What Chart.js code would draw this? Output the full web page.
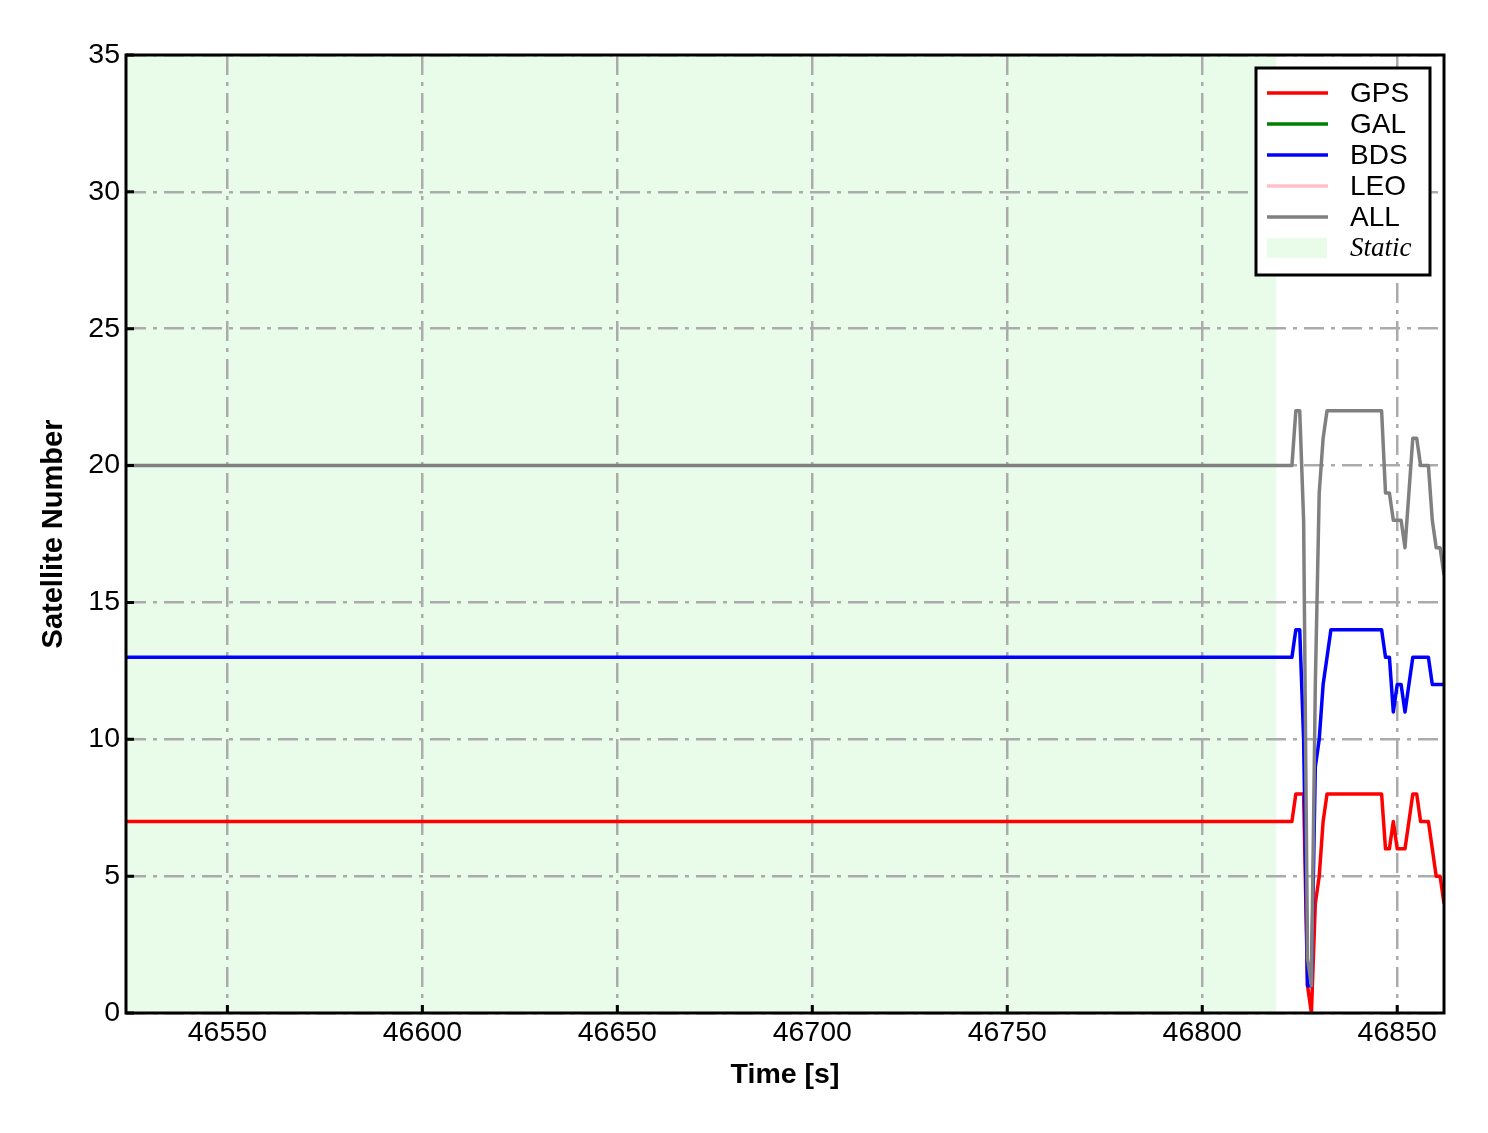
<!DOCTYPE html>
<html>
<head>
<meta charset="utf-8">
<script src="https://cdn.jsdelivr.net/npm/chart.js@4.4.0/dist/chart.umd.min.js"></script>
<style>
  html, body { margin: 0; padding: 0; background: #fff; }
  #wrap { width: 1488px; height: 1133px; }
</style>
</head>
<body>
<div id="wrap"><canvas id="satChart" width="1488" height="1133"></canvas></div>
<script>
// time stamps [s] where the counts change (flat before 46823)
const timeSec = [46524, 46823, 46824, 46825, 46826, 46827, 46828, 46829, 46830, 46831,
                 46832, 46833, 46846, 46847, 46848, 46849, 46850, 46851, 46852, 46853,
                 46854, 46855, 46856, 46857, 46858, 46859, 46860, 46861, 46862];
const gpsCount = [7, 7, 8, 8, 8, 1, 0, 4, 5, 7,
                  8, 8, 8, 6, 6, 7, 6, 6, 6, 7,
                  8, 8, 7, 7, 7, 6, 5, 5, 4];
const galCount = [];
const bdsCount = [13, 13, 14, 14, 10, 1, 1, 9, 10, 12,
                  13, 14, 14, 13, 13, 11, 12, 12, 11, 12,
                  13, 13, 13, 13, 13, 12, 12, 12, 12];
const leoCount = [];
const allCount = [20, 20, 22, 22, 18, 2, 1, 12, 19, 21,
                  22, 22, 22, 19, 19, 18, 18, 18, 17, 19,
                  21, 21, 20, 20, 20, 18, 17, 17, 16];

const staticSpan = [46524, 46819];
const xRange = [46524, 46862];
const yRange = [0, 35];
const xTicks = [46550, 46600, 46650, 46700, 46750, 46800, 46850];
const yTicks = [0, 5, 10, 15, 20, 25, 30, 35];

const seriesNames = ['GPS', 'GAL', 'BDS', 'LEO', 'ALL'];
const seriesColors = ['#ff0000', '#008000', '#0000ff', '#ffc0cb', '#808080'];
const staticColor = 'rgba(144, 238, 144, 0.2)';

const sansFont = "'Liberation Sans', Arial, sans-serif";

function toPoints(values) {
    return values.map((v, i) => ({ x: timeSec[i], y: v }));
}

// shaded static period, under the grid
const staticBand = {
    id: 'staticBand',
    beforeDraw(chart) {
        const { ctx, chartArea, scales } = chart;
        const x0 = scales.x.getPixelForValue(staticSpan[0]);
        const x1 = scales.x.getPixelForValue(staticSpan[1]);
        ctx.save();
        ctx.fillStyle = staticColor;
        ctx.fillRect(x0, chartArea.top, x1 - x0, chartArea.bottom - chartArea.top);
        ctx.restore();
    }
};

// black frame and inward tick marks
const frameTicks = {
    id: 'frameTicks',
    afterDatasetsDraw(chart) {
        const { ctx, chartArea, scales } = chart;
        ctx.save();
        ctx.strokeStyle = '#000';
        ctx.lineWidth = 3;
        ctx.beginPath();
        xTicks.forEach(v => {
            const px = scales.x.getPixelForValue(v);
            ctx.moveTo(px, chartArea.bottom);
            ctx.lineTo(px, chartArea.bottom - 8);
        });
        yTicks.forEach(v => {
            const py = scales.y.getPixelForValue(v);
            ctx.moveTo(chartArea.left, py);
            ctx.lineTo(chartArea.left + 8, py);
        });
        ctx.stroke();
        ctx.lineWidth = 3;
        ctx.strokeRect(chartArea.left, chartArea.top,
                       chartArea.right - chartArea.left, chartArea.bottom - chartArea.top);
        ctx.restore();
    }
};

// legend box in the upper right corner
const legendBox = {
    id: 'legendBox',
    afterDraw(chart) {
        const { ctx, chartArea } = chart;
        const right = chartArea.right - 14;
        const left = right - 174;
        const top = chartArea.top + 13;
        const rowH = 31;
        ctx.save();
        ctx.fillStyle = '#fff';
        ctx.fillRect(left, top, right - left, 207);
        ctx.strokeStyle = '#000';
        ctx.lineWidth = 3;
        ctx.strokeRect(left, top, right - left, 207);
        ctx.textBaseline = 'middle';
        ctx.textAlign = 'left';
        seriesNames.forEach((name, i) => {
            const y = top + 25 + i * rowH;
            ctx.strokeStyle = seriesColors[i];
            ctx.lineWidth = 3.5;
            ctx.beginPath();
            ctx.moveTo(left + 11, y);
            ctx.lineTo(left + 72, y);
            ctx.stroke();
            ctx.fillStyle = '#000';
            ctx.font = '28px ' + sansFont;
            ctx.fillText(name, left + 94, y + 1);
        });
        const ys = top + 25 + 5 * rowH;
        ctx.fillStyle = staticColor;
        ctx.fillRect(left + 11, ys - 10, 60, 20);
        ctx.fillStyle = '#000';
        ctx.font = "italic 27px 'Liberation Serif', 'Times New Roman', serif";
        ctx.fillText('Static', left + 94, ys + 1);
        ctx.restore();
    }
};

const counts = [gpsCount, galCount, bdsCount, leoCount, allCount];

const ctx = document.getElementById('satChart').getContext('2d');
new Chart(ctx, {
    type: 'line',
    data: {
        datasets: seriesNames.map((name, i) => ({
            label: name,
            data: toPoints(counts[i]),
            borderColor: seriesColors[i],
            backgroundColor: seriesColors[i],
            borderWidth: 3.5,
            pointRadius: 0,
            tension: 0,
            fill: false,
            borderJoinStyle: 'round',
            order: seriesNames.length - i
        }))
    },
    options: {
        responsive: false,
        animation: false,
        layout: { padding: { left: 0, right: 44, top: 55, bottom: 0 } },
        plugins: {
            legend: { display: false },
            tooltip: { enabled: false }
        },
        scales: {
            x: {
                type: 'linear',
                min: xRange[0],
                max: xRange[1],
                afterBuildTicks: s => { s.ticks = xTicks.map(v => ({ value: v })); },
                afterFit: s => { s.height = 120; },
                grid: { color: '#ababab', lineWidth: 2.5, drawTicks: false },
                border: { display: false, dash: [20, 7, 4, 7] },
                ticks: {
                    color: '#000',
                    padding: 3,
                    maxRotation: 0,
                    font: { family: sansFont, size: 28.5 },
                    callback: v => String(v)
                },
                title: {
                    display: true,
                    text: 'Time [s]',
                    color: '#000',
                    font: { family: sansFont, size: 28.5, weight: 'bold' },
                    padding: { top: 0, bottom: 41 }
                }
            },
            y: {
                type: 'linear',
                min: yRange[0],
                max: yRange[1],
                afterBuildTicks: s => { s.ticks = yTicks.map(v => ({ value: v })); },
                afterFit: s => { s.width = 126; },
                grid: { color: '#ababab', lineWidth: 2.5, drawTicks: false },
                border: { display: false, dash: [20, 7, 4, 7] },
                ticks: {
                    color: '#000',
                    padding: 6,
                    font: { family: sansFont, size: 28.5 },
                    callback: v => String(v)
                },
                title: {
                    display: true,
                    text: 'Satellite Number',
                    color: '#000',
                    font: { family: sansFont, size: 29, weight: 'bold' },
                    padding: { top: 37, bottom: 0 }
                }
            }
        }
    },
    plugins: [staticBand, frameTicks, legendBox]
});
</script>
</body>
</html>
